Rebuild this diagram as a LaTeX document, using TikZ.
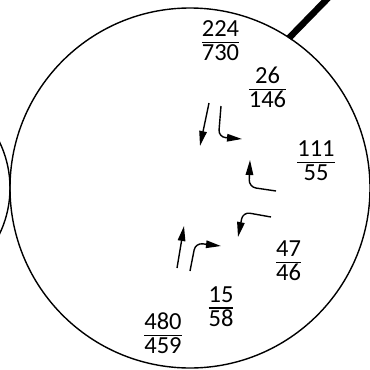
\documentclass[tikz,border=0pt]{standalone}
\usepackage{fontspec}
\setmainfont{Carlito}
\usetikzlibrary{arrows.meta}
\setlength\arrayrulewidth{1.6pt}
\newcommand\myfr[2]{\begin{tabular}{@{}c@{}}#1\\[-2pt]\hline\rule{0pt}{17.5pt}#2\end{tabular}}
\tikzset{
  lbl/.style={inner sep=0pt, font=\fontsize{24.5}{23}\selectfont},
  arr/.style={line width=1.4pt, -{Triangle[length=15pt,width=7.5pt]}, rounded corners=7pt},
  ring/.style={line width=1.4pt}
}
\begin{document}
\begin{tikzpicture}[x=1pt,y=-1pt]
\useasboundingbox (0,0) rectangle (370,370);
\clip (0,0) rectangle (370,370);
\fill[white] (0,0) rectangle (370,370);
% circles
\coordinate (bc) at (190,188);
\coordinate (sc) at (-96,188);
\draw[ring] (bc) circle[radius=180pt];
\draw[ring] (sc) circle[radius=106pt];
% thick stick
\coordinate (s1) at (289,38);
\coordinate (s2) at (332,-6);
\draw[line width=6.5pt] (s1) -- (s2);
% labels
\node[lbl] (f1) at (220.5,44) {\myfr{224}{730}};
\node[lbl] (f2) at (267.5,91) {\myfr{26}{146}};
\node[lbl] (f3) at (316,164) {\myfr{111}{55}};
\node[lbl] (f4) at (288.5,264) {\myfr{47}{46}};
\node[lbl] (f5) at (221,309.5) {\myfr{15}{58}};
\node[lbl] (f6) at (163,337) {\myfr{480}{459}};
% arrows
\coordinate (a1s) at (209,103); \coordinate (a1e) at (200,146);
\draw[arr] (a1s) -- (a1e);
\coordinate (a2s) at (221,106); \coordinate (a2c) at (218.5,137); \coordinate (a2e) at (242,139);
\draw[arr] (a2s) -- (a2c) -- (a2e);
\coordinate (a3s) at (276,191); \coordinate (a3c) at (249,187); \coordinate (a3e) at (250,160);
\draw[arr] (a3s) -- (a3c) -- (a3e);
\coordinate (a4s) at (271,217); \coordinate (a4c) at (243,212); \coordinate (a4e) at (238,237);
\draw[arr] (a4s) -- (a4c) -- (a4e);
\coordinate (a5s) at (190,271); \coordinate (a5c) at (195.5,243); \coordinate (a5e) at (221,246);
\draw[arr] (a5s) -- (a5c) -- (a5e);
\coordinate (a6s) at (177,268); \coordinate (a6e) at (184,226);
\draw[arr] (a6s) -- (a6e);
\end{tikzpicture}
\end{document}
